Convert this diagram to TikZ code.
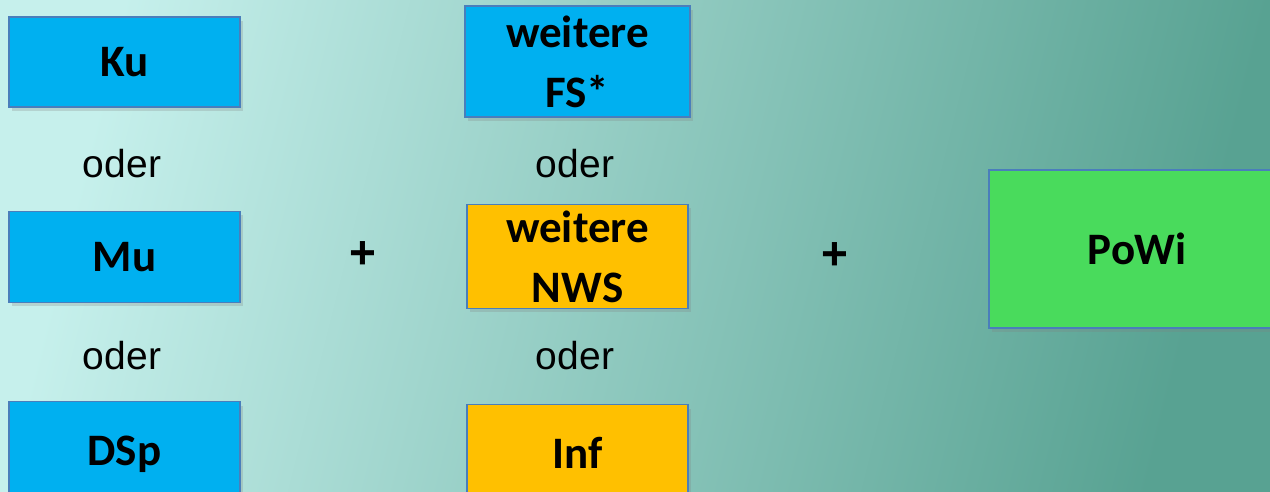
\documentclass[tikz,border=0pt]{standalone}
\usepackage{fontspec}
\setmainfont{Carlito}
\newfontfamily\arialfont{Liberation Sans}
\usepackage{xcolor}
\usepackage{tikz}
\usetikzlibrary{positioning,shadows}

\definecolor{bgleft}{RGB}{198,240,236}
\definecolor{bgmid}{RGB}{156,228,215}
\definecolor{bgright}{RGB}{88,162,146}
\definecolor{fachblau}{RGB}{0,176,240}
\definecolor{fachgelb}{RGB}{255,192,0}
\definecolor{fachgruen}{RGB}{73,219,92}
\definecolor{rand}{RGB}{74,126,187}

\begin{document}
\begin{tikzpicture}[x=1pt, y=1pt]
\tikzstyle{fach} = [rectangle, draw=rand, line width=1.4pt, inner sep=2pt, text centered, align=center,
  font=\fontsize{45}{60}\selectfont\bfseries,
  drop shadow={opacity=0.25, shadow xshift=3pt, shadow yshift=-4pt}]
\tikzstyle{blau} = [fach, fill=fachblau]
\tikzstyle{gelb} = [fach, fill=fachgelb]
\tikzstyle{gruen} = [fach, fill=fachgruen]
\tikzstyle{oder} = [anchor=base, font=\arialfont\fontsize{39}{39}\selectfont]
\tikzstyle{plus} = [font=\arialfont\fontsize{46}{46}\selectfont\bfseries]

% Hintergrund
\shade[left color=bgleft, middle color=bgmid, right color=bgright, shading angle=76] (0,0) rectangle (1270,492);
\useasboundingbox (0,0) rectangle (1270,492);

% erste Spalte
\node[blau, minimum width=231pt, minimum height=90pt] (ku) at (124.5,430) {Ku};
\node[blau, minimum width=231pt, minimum height=91pt, below=103pt of ku] (mu) {Mu};
\node[blau, minimum width=231pt, minimum height=98pt, below=98pt of mu, text depth=0pt] (dsp) {DSp};
\node[oder] (oder1) at (122,314) {oder};
\node[oder] (oder2) at (122,122) {oder};

% zweite Spalte
\node[blau, minimum width=225pt, minimum height=111pt] (fs) at (577.5,430.5) {weitere\\FS*};
\node[gelb, minimum width=221pt, minimum height=104pt, below=86pt of fs] (nws) {weitere\\NWS};
\node[gelb, minimum width=221pt, minimum height=96pt, below=95pt of nws] (inf) {Inf};
\node[oder] (oder3) at (575,314) {oder};
\node[oder] (oder4) at (575,122) {oder};

% dritte Spalte
\node[gruen, minimum width=296pt, minimum height=158pt] (powi) at (1137,243) {PoWi};

\node[plus] (plus1) at (363,237) {+};
\node[plus] (plus2) at (835,236) {+};
\end{tikzpicture}
\end{document}
